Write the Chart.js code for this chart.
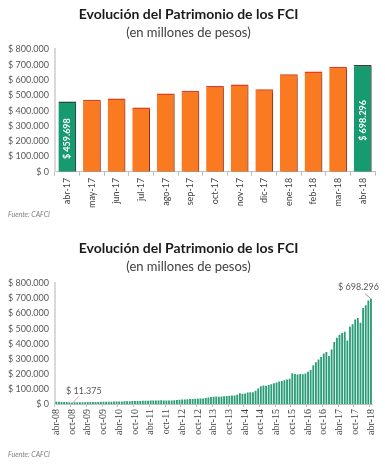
<!DOCTYPE html>
<html>
<head>
<meta charset="utf-8">
<script src="https://cdn.jsdelivr.net/npm/chart.js"></script>
<style>
  body { margin:0; background:#fff; width:385px; height:467px; position:relative; overflow:hidden; font-family: Lato, "Open Sans", sans-serif; }
  .box { position:absolute; left:0; width:385px; }
  #topBox { top:0; height:214px; }
  #bottomBox { top:234px; height:203px; }
  .src { position:absolute; left:8px; font-size:7px; font-style:italic; color:#808080; }
</style>
</head>
<body>
<div class="box" id="topBox"><canvas id="topChart"></canvas></div>
<div class="src" style="top:210px">Fuente: CAFCI</div>
<div class="box" id="bottomBox"><canvas id="bottomChart"></canvas></div>
<div class="src" style="top:450px">Fuente: CAFCI</div>
<script>
// last 13 months (millones de pesos)
const topLabels = ['abr-17','may-17','jun-17','jul-17','ago-17','sep-17','oct-17','nov-17','dic-17','ene-18','feb-18','mar-18','abr-18'];
const topValues = [459698, 471000, 479000, 421000, 512000, 529000, 561000, 570000, 540000, 637000, 656000, 686000, 698296];

// monthly history abr-08 .. abr-18 (miles de millones)
const hist2008 = [15.0, 15.3, 14.6, 14.2, 13.6, 12.8, 11.375, 11.6, 11.9];
const hist2009 = [12.3, 12.1, 12.6, 13.2, 13.8, 13.5, 14.1, 14.6, 15.0, 15.4, 15.8, 15.6];
const hist2010 = [16.3, 16.8, 17.2, 17.9, 17.5, 18.3, 18.9, 19.4, 19.8, 20.3, 20.9, 20.5];
const hist2011 = [21.4, 22.0, 22.6, 23.4, 24.1, 23.6, 24.4, 25.0, 24.2, 23.8, 23.5, 24.5];
const hist2012 = [26.0, 27.3, 28.5, 29.8, 30.4, 31.5, 33.0, 34.2, 35.0, 35.8, 36.5, 37.8];
const hist2013 = [41.0, 44.5, 46.8, 48.6, 50.2, 49.5, 51.0, 52.3, 53.6, 55.0, 56.8, 57.5];
const hist2014 = [62.0, 72.0, 68.5, 70.2, 76.5, 79.0, 78.0, 88.0, 104.0, 118.0, 122.5, 121.0];
const hist2015 = [126.0, 131.0, 138.0, 143.0, 150.0, 152.5, 158.0, 163.0, 168.5, 205.0, 199.0, 196.0];
const hist2016 = [200.0, 198.0, 203.0, 214.0, 226.0, 258.0, 278.0, 295.0, 312.0, 336.0, 345.0, 318.0];
const hist2017 = [362.0, 412.0, 440.0, 459.698, 471.0, 479.0, 421.0, 512.0, 529.0, 561.0, 570.0, 540.0];
const hist2018 = [637.0, 656.0, 686.0, 698.296];

const yTicks = [0, 100000, 200000, 300000, 400000, 500000, 600000, 700000, 800000];
const monthNames = ['ene','feb','mar','abr','may','jun','jul','ago','sep','oct','nov','dic'];

const histValues = [].concat(hist2008, hist2009, hist2010, hist2011, hist2012, hist2013,
  hist2014, hist2015, hist2016, hist2017, hist2018).map(v => Math.round(v * 1000));
const histLabels = histValues.map((v, i) => {
  const m = (3 + i) % 12;
  const y = 8 + Math.floor((3 + i) / 12);
  return monthNames[m] + '-' + String(y).padStart(2, '0');
});

function fmt(v) {
  return '$ ' + String(Math.round(v)).replace(/\B(?=(\d{3})+(?!\d))/g, '.');
}

const titleFont = { family: 'Lato', size: 14, weight: 'bold' };
const subFont = { family: 'Lato', size: 13 };
const tickFont = { family: 'Lato', size: 9 };

const green = '#169a6f';
const orange = '#fa7a22';

const topColors = topValues.map((v, i) => (i === 0 || i === topValues.length - 1) ? green : orange);
const topBorders = topValues.map((v, i) => (i === 0 || i === topValues.length - 1) ? '#2b4a3c' : '#e8401c');

const shadowPlugin = {
  id: 'shadow',
  beforeDatasetsDraw(chart) {
    const ctx = chart.ctx;
    ctx.save();
    ctx.shadowColor = 'rgba(0,0,0,0.35)';
    ctx.shadowBlur = 2;
    ctx.shadowOffsetX = 2;
    ctx.shadowOffsetY = 1;
  },
  afterDatasetsDraw(chart) {
    chart.ctx.restore();
  }
};

const insideLabels = {
  id: 'insideLabels',
  afterDatasetsDraw(chart) {
    const ctx = chart.ctx;
    const meta = chart.getDatasetMeta(0);
    const yScale = chart.scales.y;
    [0, topValues.length - 1].forEach(i => {
      const bar = meta.data[i];
      const yMid = (yScale.getPixelForValue(topValues[i]) + yScale.getPixelForValue(0)) / 2 + 2;
      ctx.save();
      ctx.translate(bar.x, yMid);
      ctx.rotate(-Math.PI / 2);
      ctx.fillStyle = '#ffffff';
      ctx.font = 'bold 9px Lato';
      ctx.textAlign = 'center';
      ctx.textBaseline = 'middle';
      ctx.fillText(fmt(topValues[i]), 0, 0);
      ctx.restore();
    });
  }
};

function yAxis() {
  return {
    min: 0, max: 800000,
    afterBuildTicks(axis) { axis.ticks = yTicks.map(v => ({ value: v })); },
    ticks: { callback: v => fmt(v), font: tickFont, color: '#595959', padding: 6 },
    grid: { display: false, drawTicks: false },
    border: { display: true, color: '#d9d9d9', width: 2 }
  };
}

new Chart(document.getElementById('topChart'), {
  type: 'bar',
  data: {
    labels: topLabels,
    datasets: [{
      data: topValues,
      backgroundColor: topColors,
      borderColor: topBorders,
      borderWidth: { top: 1.5, right: 1, left: 0, bottom: 0 },
      barPercentage: 0.72,
      categoryPercentage: 1
    }]
  },
  options: {
    responsive: true,
    maintainAspectRatio: false,
    animation: false,
    layout: { padding: { left: 2, right: 10, top: 6, bottom: 4 } },
    plugins: {
      legend: { display: false },
      tooltip: { enabled: false },
      title: { display: true, text: 'Evolución del Patrimonio de los FCI', font: titleFont, color: '#1a1a1a', padding: { top: 0, bottom: 2 } },
      subtitle: { display: true, text: '(en millones de pesos)', font: subFont, color: '#404040', padding: { bottom: 9 } }
    },
    scales: {
      x: {
        ticks: { font: tickFont, color: '#404040', minRotation: 90, maxRotation: 90, padding: 2 },
        grid: { display: true, drawOnChartArea: false, offset: true, tickLength: 4, color: '#bfbfbf' },
        border: { display: true, color: '#bfbfbf', width: 1 }
      },
      y: yAxis()
    }
  },
  plugins: [shadowPlugin, insideLabels]
});

const callouts = {
  id: 'callouts',
  afterDatasetsDraw(chart) {
    const ctx = chart.ctx;
    const meta = chart.getDatasetMeta(0);
    const yScale = chart.scales.y;
    let minI = 0;
    histValues.forEach((v, i) => { if (v < histValues[minI]) minI = i; });
    const lastI = histValues.length - 1;
    ctx.save();
    ctx.font = '9px Lato';
    ctx.fillStyle = '#595959';
    ctx.strokeStyle = '#e0a090';
    ctx.lineWidth = 1;
    // minimum
    let bx = meta.data[minI].x, by = yScale.getPixelForValue(histValues[minI]);
    ctx.beginPath(); ctx.moveTo(bx + 1, by); ctx.lineTo(bx + 7, by - 6); ctx.stroke();
    ctx.textAlign = 'left'; ctx.textBaseline = 'bottom';
    ctx.fillText(fmt(histValues[minI]), bx - 6, by - 7);
    // last
    bx = meta.data[lastI].x; by = yScale.getPixelForValue(histValues[lastI]);
    ctx.strokeStyle = '#a0a0a0';
    ctx.beginPath(); ctx.moveTo(bx, by); ctx.lineTo(bx - 6, by - 5); ctx.stroke();
    ctx.textAlign = 'right';
    ctx.fillText(fmt(histValues[lastI]), bx + 8, by - 7);
    ctx.restore();
  }
};

new Chart(document.getElementById('bottomChart'), {
  type: 'bar',
  data: {
    labels: histLabels,
    datasets: [{
      data: histValues,
      backgroundColor: '#2a9d78',
      borderWidth: 0,
      barPercentage: 0.7,
      categoryPercentage: 1
    }]
  },
  options: {
    responsive: true,
    maintainAspectRatio: false,
    animation: false,
    layout: { padding: { left: 2, right: 10, top: 6, bottom: 0 } },
    plugins: {
      legend: { display: false },
      tooltip: { enabled: false },
      title: { display: true, text: 'Evolución del Patrimonio de los FCI', font: titleFont, color: '#1a1a1a', padding: { top: 0, bottom: 2 } },
      subtitle: { display: true, text: '(en millones de pesos)', font: subFont, color: '#404040', padding: { bottom: 9 } }
    },
    scales: {
      x: {
        ticks: {
          font: { family: 'Liberation Serif', size: 10 }, color: '#404040', minRotation: 90, maxRotation: 90, padding: 2, autoSkip: false,
          callback: (v, i) => (i % 6 === 0 ? histLabels[i] : '')
        },
        grid: { display: true, drawOnChartArea: false, tickLength: 3, color: ctx => (ctx.index % 6 === 0 ? '#bfbfbf' : 'rgba(0,0,0,0)') },
        border: { display: true, color: '#bfbfbf', width: 1 }
      },
      y: yAxis()
    }
  },
  plugins: [callouts]
});
</script>
</body>
</html>
